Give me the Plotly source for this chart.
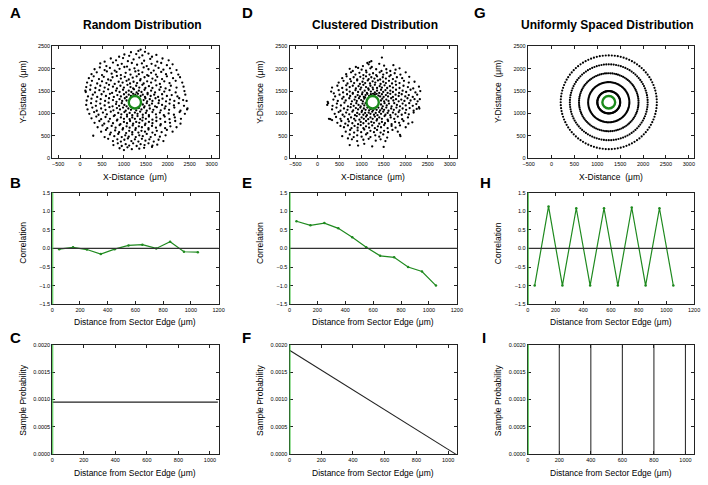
import math
import plotly.graph_objects as go

# ---------------- DATA ----------------
# Panel A: random distribution of cells (x, y in micrometres)
random_points = [
    (1380,2430),(1330,2400),(1160,2370),(1480,2380),
    (1010,2320),(1120,2290),(1280,2330),(1420,2300),(1560,2340),(1640,2270),(1740,2310),(890,2270),
    (560,2160),(700,2230),(820,2190),(980,2240),(1090,2170),(1220,2210),(1350,2250),(1460,2180),(1600,2220),(1760,2160),(1880,2230),(2020,2190),
    (460,2120),(600,2060),(750,2140),(860,2080),(950,2110),(1070,2050),(1180,2130),(1300,2090),(1410,2120),(1520,2060),(1630,2110),(1720,2070),(1850,2130),(1980,2080),(2110,2100),
    (330,1990),(450,2030),(560,1970),(680,2020),(790,1960),(900,2000),(1010,2040),(1130,1980),(1240,2010),(1330,1960),(1450,2030),(1560,1990),(1680,1960),(1790,2020),(1900,1980),(2050,2010),(2200,1970),
    (260,1880),(380,1920),(500,1860),(610,1940),(720,1890),(830,1930),(930,1860),(1040,1910),(1150,1870),(1260,1940),(1340,1880),(1420,1920),(1530,1860),(1620,1910),(1730,1870),(1850,1930),(1960,1880),(2080,1910),(2240,1870),
    (200,1790),(310,1830),(430,1770),(540,1820),(640,1760),(740,1810),(840,1840),(930,1780),(1020,1820),(1110,1760),(1200,1800),(1290,1830),(1380,1770),(1470,1810),(1560,1840),(1650,1780),(1760,1820),(1870,1770),(1980,1830),(2120,1790),(2280,1810),
    (160,1690),(270,1730),(390,1670),(500,1720),(600,1680),(700,1740),(790,1660),(880,1710),(970,1690),(1060,1730),(1140,1670),(1220,1710),(1300,1680),(1370,1740),(1450,1670),(1530,1720),(1620,1690),(1720,1740),(1820,1660),(1920,1720),(2040,1680),(2180,1730),(2330,1690),
    (140,1590),(240,1630),(350,1570),(460,1620),(560,1580),(660,1640),(750,1600),(840,1560),(920,1620),(1000,1580),(1080,1640),(1150,1590),(1210,1560),(1280,1620),(1350,1580),(1420,1640),(1490,1570),(1570,1610),(1650,1570),(1740,1630),(1840,1590),(1950,1560),(2070,1620),(2200,1580),(2360,1600),
    (120,1510),(130,1480),(230,1530),(340,1470),(440,1520),(540,1490),(640,1540),(730,1460),(820,1510),(900,1480),(980,1530),(1050,1470),(1110,1510),(1170,1480),(1230,1540),(1290,1470),(1340,1510),(1400,1480),(1470,1530),(1540,1460),(1620,1510),(1710,1470),(1810,1530),(1920,1490),(2040,1520),(2180,1470),(2380,1500),
    (180,1380),(290,1420),(390,1370),(490,1430),(590,1390),(680,1440),(770,1370),(850,1410),(930,1380),(1000,1430),(1060,1370),(1110,1420),(1160,1390),(1210,1440),(1260,1420),(1320,1440),(1380,1390),(1430,1420),(1480,1370),(1540,1430),(1610,1390),(1690,1420),(1780,1370),(1870,1430),(1980,1390),(2090,1410),(2220,1380),(2400,1420),
    (150,1290),(260,1330),(370,1270),(470,1320),(570,1280),(660,1340),(750,1300),(830,1260),(900,1320),(960,1280),(1020,1340),(1060,1290),(1450,1300),(1490,1340),(1530,1270),(1590,1320),(1650,1280),(1720,1340),(1800,1290),(1880,1330),(1960,1270),(2050,1310),(2150,1280),(2260,1340),(2350,1300),(2430,1280),
    (140,1190),(250,1230),(360,1170),(460,1220),(560,1180),(650,1240),(740,1160),(820,1210),(890,1170),(950,1230),(1010,1190),(1060,1160),(1430,1200),(1470,1160),(1520,1230),(1580,1180),(1640,1220),(1710,1160),(1790,1230),(1870,1190),(1950,1160),(2040,1220),(2140,1180),(2250,1230),(2370,1170),(2450,1110),
    (170,1090),(280,1130),(380,1060),(480,1110),(580,1080),(670,1140),(760,1070),(840,1120),(910,1090),(980,1130),(1040,1060),(1100,1110),(1160,1080),(1220,1130),(1280,1070),(1340,1120),(1400,1090),(1460,1130),(1520,1060),(1590,1110),(1670,1080),(1750,1140),(1840,1070),(1930,1110),(2030,1080),(2150,1130),(2290,1060),(2440,1090),
    (210,990),(320,1030),(420,970),(520,1020),(610,980),(700,1040),(790,960),(870,1010),(940,980),(1010,1030),(1070,970),(1130,1010),(1190,960),(1250,1020),(1310,990),(1370,1040),(1430,970),(1500,1010),(1570,960),(1650,1030),(1730,980),(1820,1020),(1910,960),(2020,1000),(2140,970),(2270,1030),(2390,990),
    (260,890),(370,930),(480,870),(580,920),(680,880),(770,940),(850,860),(930,910),(1000,880),(1070,930),(1130,870),(1190,910),(1250,880),(1310,940),(1370,870),(1430,910),(1500,880),(1570,930),(1650,860),(1740,910),(1830,880),(1930,930),(2040,870),(2160,910),(2300,880),
    (330,790),(440,830),(550,770),(650,820),(750,780),(840,840),(920,760),(1000,810),(1070,780),(1140,830),(1210,770),(1280,810),(1350,790),(1420,840),(1490,770),(1570,810),(1650,780),(1740,830),(1840,760),(1940,810),(2050,790),(2170,830),(2290,770),
    (400,690),(510,730),(620,670),(720,720),(810,680),(900,740),(980,670),(1060,710),(1130,680),(1200,730),(1270,670),(1340,710),(1410,690),(1480,740),(1560,670),(1640,720),(1730,680),(1830,730),(1940,670),(2060,710),(2200,690),
    (480,590),(590,630),(700,570),(800,620),(890,580),(970,640),(1050,560),(1120,610),(1190,580),(1260,630),(1330,570),(1400,610),(1480,590),(1560,640),(1650,570),(1750,610),(1860,580),(1980,630),(2110,590),
    (300,500),(560,470),(680,530),(780,490),(870,540),(950,470),(1030,510),(1110,480),(1190,530),(1270,470),(1350,510),(1430,490),(1520,540),(1610,470),(1710,520),(1820,480),(1950,510),
    (640,430),(750,380),(850,420),(930,370),(1010,410),(1090,440),(1170,380),(1250,420),(1330,370),(1410,430),(1490,390),(1580,420),(1680,370),(1790,410),(1900,380),
    (760,290),(860,330),(950,270),(1040,310),(1120,280),(1210,330),(1290,270),(1380,310),(1470,290),(1560,330),(1650,280),(1760,300),
    (900,220),(1000,180),(1080,240),(1180,200),(1350,210),(1460,230),(1640,250),
]

# Panel D: clustered distribution of cells
clustered_points = [
    (1460,2250),(1180,2150),(1220,2170),
    (1130,2130),(1160,2100),(1030,2060),(1510,2070),(1720,2080),(870,2040),(1230,2040),(1400,2110),
    (730,2000),(920,2020),(1000,1980),(1100,1960),(1200,2010),(1330,1990),(1450,1950),(1560,1990),(1650,1950),(1770,1980),(1860,2010),(800,1950),
    (650,1880),(760,1920),(860,1870),(950,1910),(1040,1860),(1110,1920),(1180,1870),(1260,1900),(1330,1860),(1410,1920),(1490,1870),(1570,1910),(1660,1860),(1750,1900),(1880,1870),(2000,1920),
    (560,1790),(660,1830),(740,1770),(820,1810),(900,1760),(970,1820),(1040,1780),(1100,1830),(1160,1770),(1220,1810),(1290,1780),(1350,1830),(1420,1760),(1480,1810),(1550,1780),(1630,1830),(1710,1770),(1800,1810),(1920,1790),(2080,1820),
    (480,1690),(590,1730),(680,1670),(760,1720),(830,1680),(900,1740),(960,1660),(1020,1710),(1080,1680),(1140,1740),(1190,1670),(1250,1720),(1310,1690),(1370,1740),(1430,1660),(1490,1710),(1550,1680),(1620,1730),(1690,1670),(1770,1720),(1860,1680),(1960,1730),(2070,1690),(2200,1710),
    (330,1580),(450,1620),(560,1570),(650,1630),(730,1590),(800,1620),(870,1560),(930,1610),(990,1580),(1040,1640),(1100,1590),(1150,1560),(1200,1620),(1250,1580),(1300,1640),(1350,1570),(1410,1610),(1460,1580),(1520,1630),(1580,1570),(1640,1610),(1710,1580),(1780,1640),(1860,1570),(1950,1620),(2050,1590),(2170,1560),(2300,1600),
    (310,1490),(370,1450),(480,1520),(580,1470),(660,1530),(730,1490),(800,1460),(860,1520),(920,1480),(970,1540),(1020,1470),(1070,1510),(1120,1460),(1160,1530),(1210,1490),(1260,1540),(1300,1470),(1350,1510),(1400,1460),(1440,1530),(1490,1480),(1540,1520),(1590,1460),(1650,1510),(1710,1480),(1780,1530),(1850,1460),(1930,1510),(2010,1480),(2110,1530),(2220,1470),(2330,1500),
    (400,1380),(500,1420),(590,1370),(670,1430),(740,1390),(800,1440),(860,1370),(910,1410),(960,1380),(1010,1430),(1050,1370),(1090,1410),(1130,1440),(1170,1390),(1210,1430),(1260,1440),(1300,1425),(1340,1440),(1380,1400),(1420,1380),(1460,1430),(1500,1370),(1550,1410),(1600,1380),(1650,1440),(1710,1370),(1770,1420),(1840,1390),(1910,1430),(1990,1380),(2070,1410),(2160,1370),(2260,1420),(2320,1320),
    (230,1260),(240,1230),(360,1310),(460,1280),(560,1330),(640,1290),(720,1340),(780,1270),(840,1310),(890,1280),(940,1340),(990,1300),(1030,1270),(1060,1330),(1440,1290),(1470,1330),(1510,1270),(1560,1310),(1610,1280),(1670,1340),(1720,1290),(1780,1320),(1840,1270),(1900,1310),(1970,1280),(2040,1340),(2110,1290),(2200,1320),(2270,1270),(1080,1360),
    (220,1190),(340,1170),(440,1220),(530,1180),(610,1240),(690,1160),(760,1210),(820,1170),(880,1230),(930,1190),(980,1160),(1020,1220),(1060,1180),(1440,1200),(1480,1160),(1520,1230),(1570,1180),(1620,1220),(1680,1160),(1740,1230),(1800,1190),(1870,1160),(1930,1220),(2000,1180),(2080,1230),(2160,1170),(2240,1210),(2300,1140),(2310,1110),(1090,1230),
    (330,1090),(430,1130),(520,1060),(600,1110),(680,1080),(750,1140),(810,1070),(870,1120),(920,1090),(970,1130),(1010,1060),(1050,1110),(1090,1080),(1130,1130),(1170,1070),(1210,1100),(1260,1070),(1300,1110),(1340,1080),(1380,1130),(1420,1070),(1460,1110),(1510,1080),(1560,1130),(1610,1060),(1670,1110),(1730,1080),(1790,1130),(1860,1070),(1930,1110),(2010,1080),(2090,1120),(2180,1060),(2250,1100),
    (390,990),(480,1030),(570,970),(650,1020),(720,980),(790,1040),(850,960),(900,1010),(950,980),(1000,1030),(1040,970),(1080,1010),(1120,960),(1160,1020),(1200,990),(1240,1040),(1280,970),(1320,1010),(1360,960),(1400,1030),(1440,990),(1490,1040),(1540,970),(1590,1010),(1650,960),(1710,1020),(1770,980),(1840,1030),(1910,970),(1990,1010),(2070,980),(2180,1020),
    (260,880),(290,870),(330,850),(420,920),(520,880),(610,930),(690,870),(760,910),(830,880),(890,940),(950,860),(1000,910),(1050,880),(1100,930),(1150,870),(1200,910),(1250,880),(1300,930),(1350,870),(1400,910),(1460,880),(1520,940),(1590,860),(1660,910),(1740,880),(1820,930),(1920,870),(2050,910),
    (450,790),(540,830),(630,770),(710,820),(790,780),(860,840),(920,760),(980,810),(1040,780),(1100,830),(1160,770),(1220,810),(1280,790),(1340,840),(1400,770),(1460,810),(1530,780),(1600,830),(1680,760),(1760,810),(1850,790),(1950,830),(2060,770),(2150,800),
    (520,720),(600,690),(690,730),(770,670),(840,720),(910,680),(980,740),(1040,670),(1100,710),(1170,680),(1240,730),(1300,670),(1370,710),(1440,690),(1510,740),(1590,670),(1680,720),(1770,680),(1870,730),(2000,690),
    (640,590),(740,630),(830,570),(910,620),(990,580),(1060,640),(1130,560),(1200,610),(1280,580),(1350,630),(1430,570),(1510,610),(1600,580),(1700,630),(1820,590),
    (560,490),(730,530),(820,470),(900,510),(1000,480),(1100,530),(1200,470),(1310,510),(1400,480),(1490,530),(1580,460),(1870,520),(1880,490),
    (690,440),(780,420),(900,380),(1040,410),(1160,430),(1320,390),(1430,420),(1540,380),
    (730,290),(920,280),(1060,320),(1240,260),(1500,250),
]

# Panel G: uniformly spaced rings
ring_radii = [250, 450, 650, 850, 1050]
ring_counts = [100, 100, 100, 100, 100]

# Sector (green circle) in the top row
sector_center_x = 1250
sector_center_y = 1250
sector_radius = 140

# Row 2: correlation vs distance from sector edge
bin_centers = [50, 150, 250, 350, 450, 550, 650, 750, 850, 950, 1050]
corr_random = [-0.02, 0.03, -0.03, -0.15, -0.02, 0.08, 0.10, 0.00, 0.18, -0.09, -0.10]
corr_clustered = [0.73, 0.62, 0.68, 0.54, 0.30, 0.03, -0.20, -0.24, -0.50, -0.62, -1.00]
corr_uniform = [-1.00, 1.13, -1.00, 1.08, -1.00, 1.08, -1.00, 1.10, -1.00, 1.08, -1.00]

# Row 3: sample probability vs distance from sector edge
prob_dist = [0, 1050]
prob_random = [0.000952, 0.000952]
prob_clustered = [0.0019, 0.0]
uniform_spike_positions = [200, 400, 600, 800, 1000]
spike_height = 0.0021

titles = ["Random Distribution", "Clustered Distribution", "Uniformly Spaced Distribution"]
panel_letters = ["A", "D", "G", "B", "E", "H", "C", "F", "I"]

# ---------------- FIGURE ----------------
W, H = 708, 485
FONT = "Arial, Liberation Sans, Helvetica, sans-serif"

def px(x):
    return x / W

def py(y):
    return 1 - y / H

col_dom = [(48, 217), (289, 459), (531, 700)]
row_dom = [(44, 157), (192, 305), (346, 457)]

fig = go.Figure()

def ax_name(i):
    return "" if i == 1 else str(i)

# top row scatter
sx, sy = zip(*random_points)
fig.add_trace(go.Scatter(x=list(sx), y=list(sy), mode="markers",
                         marker=dict(size=2.3, color="black"), xaxis="x", yaxis="y"))
cx, cy = zip(*clustered_points)
fig.add_trace(go.Scatter(x=list(cx), y=list(cy), mode="markers",
                         marker=dict(size=2.3, color="black"), xaxis="x2", yaxis="y2"))
gx, gy = [], []
for r, n in zip(ring_radii, ring_counts):
    for k in range(n):
        a = 2 * math.pi * k / n
        gx.append(sector_center_x + r * math.cos(a))
        gy.append(sector_center_y + r * math.sin(a))
fig.add_trace(go.Scatter(x=gx, y=gy, mode="markers",
                         marker=dict(size=2.2, color="black"), xaxis="x3", yaxis="y3"))

# correlation row
for i, vals in enumerate([corr_random, corr_clustered, corr_uniform]):
    n = 4 + i
    fig.add_trace(go.Scatter(x=bin_centers, y=vals, mode="lines+markers",
                             line=dict(color="#1f8a1f", width=1.2),
                             marker=dict(size=2.5, color="#1f8a1f"),
                             xaxis="x" + str(n), yaxis="y" + str(n)))

# probability row
fig.add_trace(go.Scatter(x=prob_dist, y=prob_random, mode="lines",
                         line=dict(color="#222", width=1.1), xaxis="x7", yaxis="y7"))
fig.add_trace(go.Scatter(x=prob_dist, y=prob_clustered, mode="lines",
                         line=dict(color="#222", width=1.1), xaxis="x8", yaxis="y8"))
ix, iy = [], []
for p in uniform_spike_positions:
    ix += [p, p, None]
    iy += [0, spike_height, None]
fig.add_trace(go.Scatter(x=ix, y=iy, mode="lines",
                         line=dict(color="#333", width=1.1), xaxis="x9", yaxis="y9"))

base_axis = dict(showline=True, linecolor="#222", linewidth=1, mirror="ticks",
                 ticks="inside", ticklen=3, tickwidth=0.8, tickcolor="#222",
                 showgrid=False, zeroline=False,
                 tickfont=dict(size=5.5, family=FONT, color="black"))

layout = {}
shapes = []
for r in range(3):
    for c in range(3):
        n = r * 3 + c + 1
        xd = [px(col_dom[c][0]), px(col_dom[c][1])]
        yd = [py(row_dom[r][1]), py(row_dom[r][0])]
        xa = dict(base_axis, domain=xd, anchor="y" + ax_name(n))
        ya = dict(base_axis, domain=yd, anchor="x" + ax_name(n))
        if r == 0:
            xr = [-520, 3115] if c == 2 else [-635, 3160]
            xa.update(range=xr, tickvals=[-500, 0, 500, 1000, 1500, 2000, 2500, 3000])
            ya.update(range=[0, 2500], tickvals=[0, 500, 1000, 1500, 2000, 2500])
            shapes.append(dict(type="circle", xref="x" + ax_name(n), yref="y" + ax_name(n),
                               x0=sector_center_x - sector_radius, x1=sector_center_x + sector_radius,
                               y0=sector_center_y - sector_radius, y1=sector_center_y + sector_radius,
                               line=dict(color="#1a8a1a", width=2.4), fillcolor="white", layer="above"))
        elif r == 1:
            xa.update(range=[0, 1200], tickvals=[0, 200, 400, 600, 800, 1000, 1200])
            ya.update(range=[-1.5, 1.5], tickvals=[-1.5, -1.0, -0.5, 0.0, 0.5, 1.0, 1.5],
                      tickformat=".1f")
            shapes.append(dict(type="line", xref="x" + ax_name(n) + " domain", yref="y" + ax_name(n),
                               x0=0, x1=1, y0=0, y1=0, line=dict(color="#333", width=1.2), layer="above"))
        else:
            xa.update(range=[0, 1055], tickvals=[0, 200, 400, 600, 800, 1000])
            ya.update(range=[0, 0.002], tickvals=[0, 0.0005, 0.001, 0.0015, 0.002],
                      tickformat=".4f")
        if r >= 1:
            shapes.append(dict(type="line", xref="x" + ax_name(n), yref="y" + ax_name(n) + " domain",
                               x0=0, x1=0, y0=0, y1=1, line=dict(color="#3cc03c", width=2), layer="above"))
        layout["xaxis" + ax_name(n)] = xa
        layout["yaxis" + ax_name(n)] = ya

annotations = []
def ann(text, x, y, size, bold=False, angle=0, xanchor="center", yanchor="middle"):
    annotations.append(dict(text=("<b>%s</b>" % text) if bold else text,
                            x=px(x), y=py(y), xref="paper", yref="paper",
                            showarrow=False, textangle=angle, xanchor=xanchor, yanchor=yanchor,
                            font=dict(size=size, family=FONT, color="black")))

centers = [(a + b) / 2 for a, b in col_dom]
title_x = [140, 376, 612]
for c in range(3):
    ann(titles[c], title_x[c], 22, 12, bold=True)
    ann("X-Distance  (μm)", centers[c], 176, 8.5)
    ann("Distance from Sector Edge (μm)", centers[c], 323, 8.5)
    ann("Distance from Sector Edge (μm)", centers[c], 476, 8.5)

ylab_x = [18, 259, 501]
for c in range(3):
    ann("Y-Distance  (μm)", ylab_x[c], 90, 8.5, angle=-90)
    ann("Correlation", ylab_x[c], 243, 8.5, angle=-90)
    ann("Sample Probability", ylab_x[c], 402, 8.5, angle=-90)

letter_pos = [(3, 9.5), (239, 9.5), (474, 9.5),
              (3, 181.5), (239, 181.5), (480, 181.5),
              (3, 338.5), (239, 338.5), (482, 338.5)]
for L, (x, y) in zip(panel_letters, letter_pos):
    ann(L, x, y, 15, bold=True, xanchor="left")

fig.update_layout(width=W, height=H, margin=dict(l=0, r=0, t=0, b=0),
                  paper_bgcolor="white", plot_bgcolor="white", showlegend=False,
                  shapes=shapes, annotations=annotations, **layout)

fig.write_html("out.html", config={"displayModeBar": False},
               post_script="document.body.style.margin='0px';")
